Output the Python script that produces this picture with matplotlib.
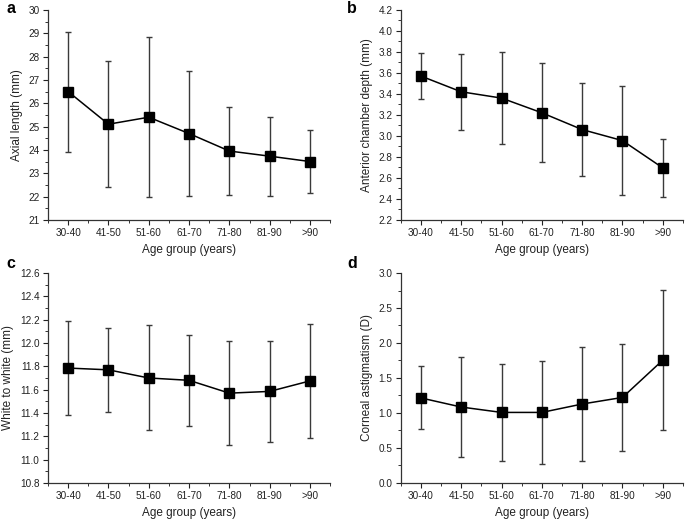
import matplotlib as mpl
mpl.use('Agg')
import matplotlib.pyplot as plt
from matplotlib.ticker import AutoMinorLocator, MultipleLocator, FormatStrFormatter
import numpy as np

plt.rcParams['font.family'] = ['Liberation Sans', 'DejaVu Sans']

age_groups = ['30-40', '41-50', '51-60', '61-70', '71-80', '81-90', '>90']

# panel a: axial length (mm)
axial_mean = [26.50, 25.10, 25.40, 24.70, 23.95, 23.73, 23.50]
axial_sd = [2.57, 2.70, 3.42, 2.66, 1.89, 1.69, 1.34]

# panel b: anterior chamber depth (mm)
acd_mean = [3.57, 3.42, 3.36, 3.22, 3.06, 2.955, 2.695]
acd_sd = [0.22, 0.36, 0.44, 0.47, 0.44, 0.52, 0.28]

# panel c: white to white (mm)
wtw_mean = [11.785, 11.77, 11.70, 11.68, 11.57, 11.585, 11.675]
wtw_sd = [0.405, 0.36, 0.45, 0.39, 0.445, 0.435, 0.49]

# panel d: corneal astigmatism (D)
astig_mean = [1.215, 1.085, 1.008, 1.008, 1.128, 1.222, 1.755]
astig_sd = [0.45, 0.71, 0.69, 0.73, 0.82, 0.765, 1.00]

panels = [
    ('a', axial_mean, axial_sd, 'Axial length (mm)', (21, 30), 1, '%d'),
    ('b', acd_mean, acd_sd, 'Anterior chamber depth (mm)', (2.2, 4.2), 0.2, '%.1f'),
    ('c', wtw_mean, wtw_sd, 'White to white (mm)', (10.8, 12.6), 0.2, '%.1f'),
    ('d', astig_mean, astig_sd, 'Corneal astigmatism (D)', (0.0, 3.0), 0.5, '%.1f'),
]

# axes rectangles in figure fractions [left, bottom, width, height]
rects = [
    [0.070, 0.578, 0.412, 0.403],
    [0.585, 0.578, 0.412, 0.403],
    [0.070, 0.073, 0.412, 0.403],
    [0.585, 0.073, 0.412, 0.403],
]
# panel letters, baseline positions
letter_pos = [(0.010, 0.975), (0.507, 0.975), (0.010, 0.486), (0.507, 0.486)]

fig = plt.figure(figsize=(6.85, 5.21), dpi=100)
x = np.arange(len(age_groups))

for (letter, mean, sd, ylabel, ylim, step, fmt), rect, lp in zip(panels, rects, letter_pos):
    ax = fig.add_axes(rect)
    ax.errorbar(x, mean, yerr=sd, fmt='none', ecolor='#3a3a3a', elinewidth=1.0,
                capsize=2.5, capthick=1.0, zorder=2)
    ax.plot(x, mean, color='black', linewidth=1.1, marker='s', markersize=6.5, zorder=3)

    ax.set_xlim(-0.5, 6.5)
    ax.set_ylim(*ylim)
    ax.set_xticks(x)
    ax.set_xticklabels(age_groups)
    ax.xaxis.set_minor_locator(MultipleLocator(0.5))
    ax.yaxis.set_major_locator(MultipleLocator(step))
    ax.yaxis.set_major_formatter(FormatStrFormatter(fmt))
    ax.yaxis.set_minor_locator(AutoMinorLocator(2))

    for side in ['top', 'right']:
        ax.spines[side].set_visible(False)
    for side in ['left', 'bottom']:
        ax.spines[side].set_linewidth(0.9)
        ax.spines[side].set_color('#333333')

    ax.tick_params(which='major', direction='out', length=3.5, width=0.8,
                   labelsize=7.2, colors='#222222', pad=2.5)
    ax.tick_params(which='minor', direction='out', length=2, width=0.7, colors='#333333')

    ax.set_xlabel('Age group (years)', fontsize=8.5, color='#222222', labelpad=4)
    ax.set_ylabel(ylabel, fontsize=8.5, color='#222222', labelpad=4)

    fig.text(lp[0], lp[1], letter, fontsize=11.5, fontweight='bold',
             va='baseline', ha='left')

fig.savefig('out.png', dpi=100)
